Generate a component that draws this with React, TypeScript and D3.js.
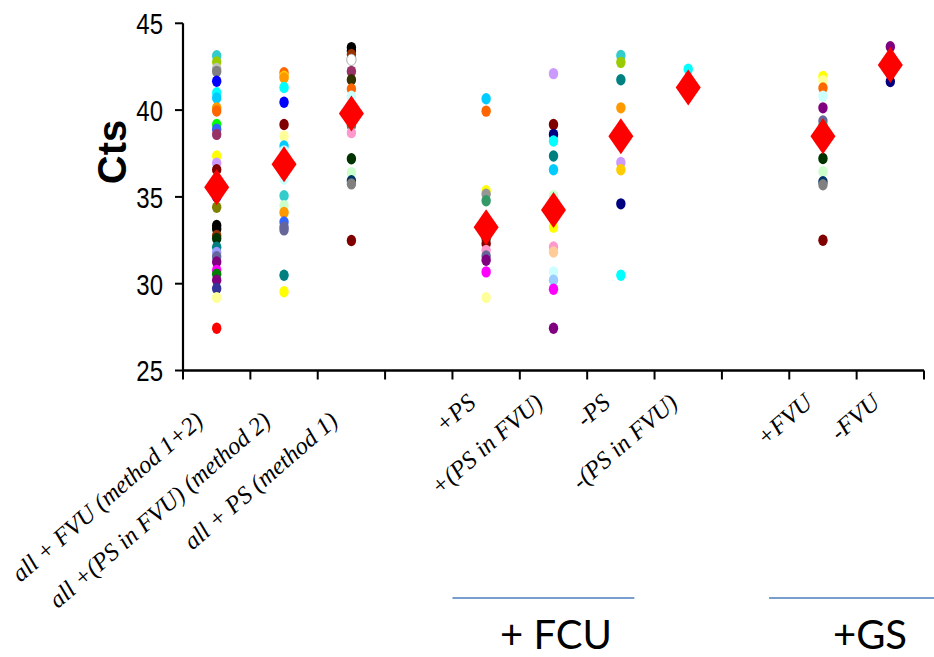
import React from "react";
import * as d3 from "d3";

const categories = [
  "all + FVU (method 1+2)",
  "all +(PS in FVU) (method 2)",
  "all + PS (method 1)",
  "",
  "+PS",
  "+(PS in FVU)",
  "-PS",
  "-(PS in FVU)",
  "",
  "+FVU",
  "-FVU",
];

const yTicks = [25, 30, 35, 40, 45];

// Individual Ct values per category (top to bottom)
const allFVU = [43.13, 42.77, 42.4, 42.23, 41.66, 41.0, 40.7, 40.13, 39.95, 39.17, 38.9, 38.6, 37.36, 36.94, 36.56, 36.1, 35.0, 34.4, 33.35, 33.15, 32.78, 32.6, 32.1, 31.8, 31.55, 31.25, 30.77, 30.55, 30.2, 29.72, 29.2, 27.43];
const allFVUColors = ["#33cccc", "#99cc00", "#c0c0c0", "#808080", "#0000ff", "#00ffff", "#00ccff", "#ff9900", "#ff6600", "#00ff00", "#3366ff", "#993366", "#ffff00", "#cc99ff", "#800000", "#ccffff", "#0000ff", "#808000", "#000000", "#000000", "#993300", "#003300", "#008080", "#9999ff", "#666699", "#800080", "#ff00ff", "#008000", "#800080", "#333399", "#ffff99", "#ff0000"];

const allPSinFVU = [42.15, 41.95, 41.85, 41.3, 40.45, 39.17, 38.5, 37.93, 37.65, 36.9, 36.03, 35.07, 34.5, 34.1, 33.55, 33.26, 33.1, 30.49, 29.54];
const allPSinFVUColors = ["#ff6600", "#ffcc00", "#ff9900", "#00ffff", "#0000ff", "#800000", "#ffff99", "#00ccff", "#ccffff", "#ccffff", "#ccffff", "#33cccc", "#ccffcc", "#ff9900", "#3366ff", "#666699", "#666699", "#008080", "#ffff00"];

const allPS = [43.6, 43.4, 43.2, 42.9, 42.23, 41.75, 41.22, 40.8, 39.5, 39.1, 38.7, 37.2, 36.4, 35.93, 35.75, 32.49];
const allPSColors = ["#000000", "#000000", "#993300", "#ffffff", "#993366", "#333300", "#ff6600", "#ccffff", "#ccffff", "#339966", "#ff99cc", "#003300", "#ccffcc", "#003366", "#808080", "#800000"];

const plusPS = [40.65, 39.94, 35.35, 35.15, 34.78, 33.0, 32.6, 32.3, 31.92, 31.6, 31.35, 30.68, 29.2];
const plusPSColors = ["#00ccff", "#ff6600", "#ffff00", "#969696", "#339966", "#003300", "#003300", "#800000", "#ff99cc", "#666699", "#800080", "#ff00ff", "#ffff99"];

const plusPSinFVU = [42.1, 39.17, 38.6, 38.22, 37.36, 36.56, 35.07, 33.26, 32.11, 31.83, 30.68, 30.2, 29.68, 27.43];
const plusPSinFVUColors = ["#cc99ff", "#800000", "#000080", "#00ffff", "#008080", "#00ccff", "#ccffcc", "#ffff00", "#ff99cc", "#ffcc99", "#ccffff", "#99ccff", "#ff00ff", "#800080"];

const minusPS = [43.15, 42.75, 41.75, 40.13, 38.6, 36.98, 36.56, 34.6, 30.49];
const minusPSColors = ["#33cccc", "#99cc00", "#008080", "#ff9900", "#cc99ff", "#cc99ff", "#ffcc00", "#000080", "#00ffff"];

const minusPSinFVU = [42.35, 41.2];
const minusPSinFVUColors = ["#00ffff", "#00ffff"];

const plusFVU = [41.94, 41.7, 41.27, 40.8, 40.13, 39.37, 39.1, 38.5, 37.21, 36.45, 35.87, 35.7, 32.5];
const plusFVUColors = ["#ffff00", "#ffff99", "#ff6600", "#ccffff", "#800080", "#666699", "#339966", "#808080", "#003300", "#ccffcc", "#003366", "#808080", "#800000"];

const minusFVU = [43.65, 41.65];
const minusFVUColors = ["#800080", "#000080"];

const seriesValues = [allFVU, allPSinFVU, allPS, [], plusPS, plusPSinFVU, minusPS, minusPSinFVU, [], plusFVU, minusFVU];
const seriesColors = [allFVUColors, allPSinFVUColors, allPSColors, [], plusPSColors, plusPSinFVUColors, minusPSColors, minusPSinFVUColors, [], plusFVUColors, minusFVUColors];

// Mean values (red diamonds); null = no data
const means = [35.55, 36.88, 39.8, null, 33.25, 34.25, 38.5, 41.3, null, 38.5, 42.6];

const groupLabels = ["+ FCU", "+GS"];
const groupSpans = [[4, 6.7], [8.7, 11.2]];

export default function App() {
  const W = 934, H = 657;
  const x0 = 183, x1 = 924;
  const yTop = 23.3, yBot = 370.5;

  const x = d3.scaleBand<number>().domain(d3.range(categories.length)).range([x0, x1]).padding(0);
  const xPos = d3.scaleLinear().domain([0, categories.length]).range([x0, x1]);
  const y = d3.scaleLinear().domain([25, 45]).range([yBot, yTop]);
  const bw = x.bandwidth();

  const diamond = (cx: number, cy: number) => {
    const hw = 12.5, hh = 18;
    return `M${cx},${cy - hh}L${cx + hw},${cy}L${cx},${cy + hh}L${cx - hw},${cy}Z`;
  };

  const tickFont = "'Liberation Sans', Arial, sans-serif";
  const serif = "'Liberation Serif', 'Times New Roman', serif";

  return (
    <svg width={W} height={H} style={{ position: "absolute", left: 0, top: 0, background: "#fff" }}>
      {/* y axis */}
      <line x1={x0} x2={x0} y1={yTop} y2={yBot} stroke="#000" strokeWidth={2.2} />
      {yTicks.map((t) => (
        <g key={t}>
          <line x1={x0 - 8} x2={x0} y1={y(t)} y2={y(t)} stroke="#000" strokeWidth={2} />
          <text transform={`translate(${x0 - 20},${y(t)}) scale(0.8,1)`} dy="0.36em" textAnchor="end" fontFamily={tickFont} fontSize={30} fill="#000">{t}</text>
        </g>
      ))}
      <text transform={`translate(126,152) rotate(-90)`} textAnchor="middle" fontFamily="'Liberation Sans', Arial, sans-serif" fontWeight="bold" fontSize={40} fill="#000">Cts</text>

      {/* x axis */}
      <line x1={x0} x2={x1} y1={yBot} y2={yBot} stroke="#000" strokeWidth={2.6} />
      {d3.range(categories.length + 1).map((i) => (
        <line key={i} x1={xPos(i)} x2={xPos(i)} y1={yBot} y2={yBot + 9} stroke="#000" strokeWidth={2} />
      ))}
      {categories.map((c, i) => {
        if (!c) return null;
        const cx = (x(i) as number) + bw / 2;
        const left = i < 3;
        const ax = cx - (left ? 12 : 9);
        const ay = left ? 423 : 405;
        return (
          <text key={i} transform={`translate(${ax},${ay}) rotate(-41)`} textAnchor="end" fontFamily={serif} fontStyle="italic" fontSize={24.5} fill="#000">{c}</text>
        );
      })}

      {/* dots */}
      {seriesValues.map((vals, i) => {
        const cx = (x(i) as number) + bw / 2;
        return (
          <g key={i}>
            {vals.map((v, j) => {
              const col = seriesColors[i][j];
              return (
                <ellipse key={j} cx={cx} cy={y(v)} rx={4.7} ry={5.7} fill={col} stroke={col === "#ffffff" ? "#999" : "none"} strokeWidth={0.8} />
              );
            })}
          </g>
        );
      })}

      {/* means */}
      {means.map((m, i) => {
        if (m === null) return null;
        const cx = (x(i) as number) + bw / 2;
        return <path key={i} d={diamond(cx, y(m))} fill="#ff0000" />;
      })}

      {/* group brackets */}
      {groupLabels.map((g, k) => {
        const a = xPos(groupSpans[k][0]);
        const b = Math.min(W, xPos(groupSpans[k][1]));
        return <line key={g} x1={a} x2={b} y1={598} y2={598} stroke="#4a7ebb" strokeWidth={1.6} />;
      })}
      <text x={556} y={649} textAnchor="middle" fontFamily="Lato, 'Open Sans', sans-serif" fontSize={40} fill="#000">{groupLabels[0]}</text>
      <text x={870} y={649} textAnchor="middle" fontFamily="Lato, 'Open Sans', sans-serif" fontSize={40} fill="#000">{groupLabels[1]}</text>
    </svg>
  );
}
